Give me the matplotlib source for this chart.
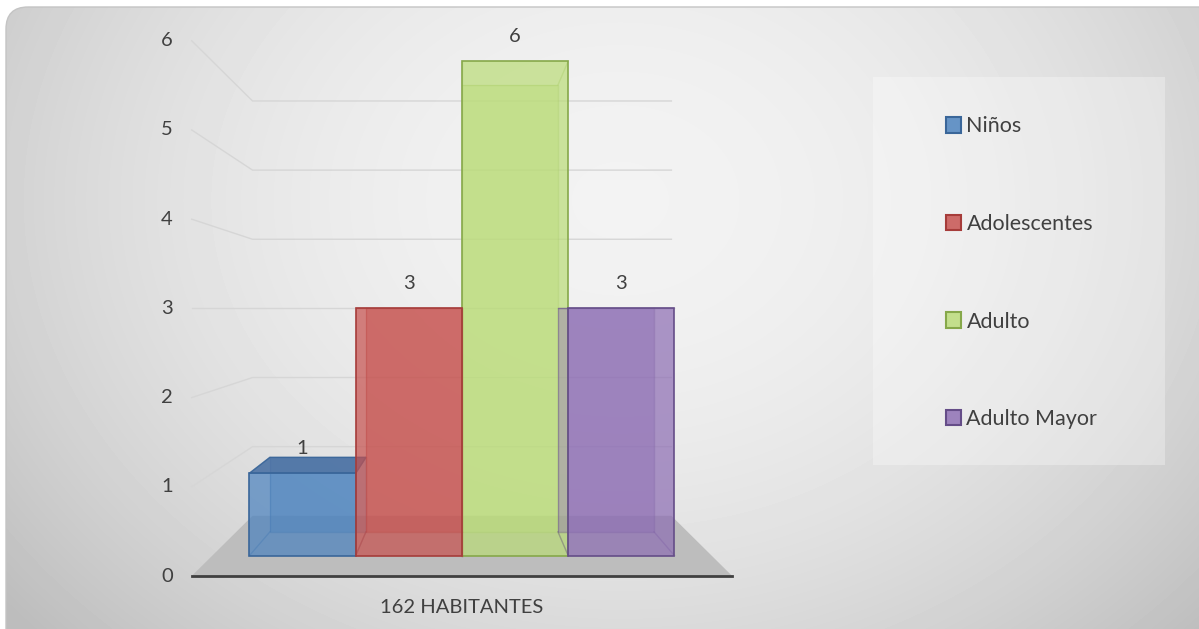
import numpy as np
import matplotlib.pyplot as plt
from matplotlib.patches import Polygon, FancyBboxPatch, Rectangle, Patch

plt.rcParams['font.family'] = ['Lato', 'DejaVu Sans']

categories = ['Niños', 'Adolescentes', 'Adulto', 'Adulto Mayor']
values = [1, 3, 6, 3]
group_label = '162 HABITANTES'
yticks = [0, 1, 2, 3, 4, 5, 6]

fill_colors = ['#4981BE', '#C64F4C', '#BADC77', '#8C6CB3']
edge_colors = ['#3A6699', '#A63C3A', '#86A84A', '#654D88']
top_colors = ['#4C72A4', '#A84644', '#A4C466', '#7A5EA0']
legend_colors = ['#6694C6', '#CD6B69', '#C3DF8C', '#9D83BD']
text_color = '#404040'

# simple perspective: everything shrinks toward the eye point
EYE_X, EYE_V = 2.0, 3.0
S_FLOOR, S_FRONT, S_BACK, S_WALL = 1.0, 0.924, 0.835, 0.775
FL, FR = -0.35, 4.35


def proj(x, v, s):
    return EYE_X + s * (x - EYE_X), EYE_V + s * (v - EYE_V)


W, H = 1199, 629
fig = plt.figure(figsize=(W / 100, H / 100), dpi=100, facecolor='white')

# background panel with soft radial gradient
bg = fig.add_axes([0, 0, 1, 1], zorder=-1)
bg.set_xlim(0, W)
bg.set_ylim(H, 0)
bg.axis('off')
yy, xx = np.mgrid[0:H, 0:W]
r2 = ((xx - 620) / 650.0) ** 2 + ((yy - 200) / 520.0) ** 2
shade = np.clip(0.95 - 0.14 * r2, 0.74, 0.96)
im = bg.imshow(shade, cmap='gray', vmin=0, vmax=1, extent=(0, W, H, 0), interpolation='bilinear')
panel = FancyBboxPatch((6, 7), 1260, 700, boxstyle='round,pad=0,rounding_size=22',
                       fc='none', ec='#c4c4c4', lw=1, transform=bg.transData)
bg.add_patch(panel)
im.set_clip_path(panel)
bg.add_patch(Rectangle((873, 77), 292, 388, fc='white', alpha=0.3, ec='none'))

ax = fig.add_axes([0, 0, 1, 1])
ax.set_xlim(-2.017, 8.409)
ax.set_ylim(-0.594, 6.457)
ax.axis('off')

# gridlines on side wall and back wall
for t in yticks[1:]:
    p0 = proj(FL, t, S_FLOOR)
    p1 = proj(FL, t, S_WALL)
    p2 = proj(FR, t, S_WALL)
    ax.plot([p0[0], p1[0], p2[0]], [p0[1], p1[1], p2[1]], color='#d6d6d6', lw=1, zorder=1)

# floor
floor = [proj(FL, 0, S_FLOOR), proj(FR, 0, S_FLOOR), proj(FR, 0, S_WALL), proj(FL, 0, S_WALL)]
ax.add_patch(Polygon(floor, fc='#bdbdbd', ec='none', zorder=2))
a, b = proj(FL, 0, S_FLOOR), proj(FR, 0, S_FLOOR)
ax.plot([a[0], b[0]], [a[1], b[1]], color='#404040', lw=2, zorder=2)

for t in yticks:
    ax.annotate(str(t), xy=proj(FL, t, S_FLOOR), xytext=(-19, 0), textcoords='offset pixels',
                ha='right', va='center', fontsize=14.5, color=text_color)

ax.annotate(group_label, xy=proj(EYE_X, 0, S_FLOOR), xytext=(0, -31), textcoords='offset pixels',
            ha='center', va='center', fontsize=14.5, color=text_color)

# bars, back ones first
for i in [0, 3, 1, 2]:
    v = values[i]
    x0, x1 = i, i + 1
    fc, ec = fill_colors[i], edge_colors[i]
    z = 3 + [0, 2, 0, 1][i] * 0.1
    back = [proj(x0, 0, S_BACK), proj(x1, 0, S_BACK), proj(x1, v, S_BACK), proj(x0, v, S_BACK)]
    front = [proj(x0, 0, S_FRONT), proj(x1, 0, S_FRONT), proj(x1, v, S_FRONT), proj(x0, v, S_FRONT)]
    ax.add_patch(Polygon(back, fc=fc, alpha=0.4, ec='none', zorder=z))
    ax.add_patch(Polygon(back, fill=False, ec=ec, alpha=0.4, lw=1, zorder=z))
    for k in range(4):
        ax.plot([back[k][0], front[k][0]], [back[k][1], front[k][1]], color=ec, alpha=0.4, lw=1, zorder=z)
    if v < EYE_V:
        top = [front[3], front[2], back[2], back[3]]
        ax.add_patch(Polygon(top, fc=top_colors[i], alpha=0.9, ec=ec, lw=1, zorder=z))
    ax.add_patch(Polygon(front, fc=fc, alpha=0.7, ec='none', zorder=z))
    ax.add_patch(Polygon(front, fill=False, ec=ec, lw=1.2, zorder=z))
    ax.annotate(str(v), xy=proj(i + 0.5, v, S_FRONT), xytext=(0, 25), textcoords='offset pixels',
                ha='center', va='center', fontsize=14.5, color=text_color, zorder=6)

handles = [Patch(fc=legend_colors[i], ec=edge_colors[i], lw=1.5) for i in range(len(categories))]
fig.legend(handles, categories, loc='upper left', bbox_to_anchor=(946 / W, 1 - 116.5 / H),
           frameon=False, fontsize=15.5, handlelength=0.7, handleheight=0.7, handletextpad=0.25,
           labelspacing=3.6, borderpad=0, borderaxespad=0, labelcolor=text_color)

fig.savefig('out.png', dpi=100, facecolor='white')
